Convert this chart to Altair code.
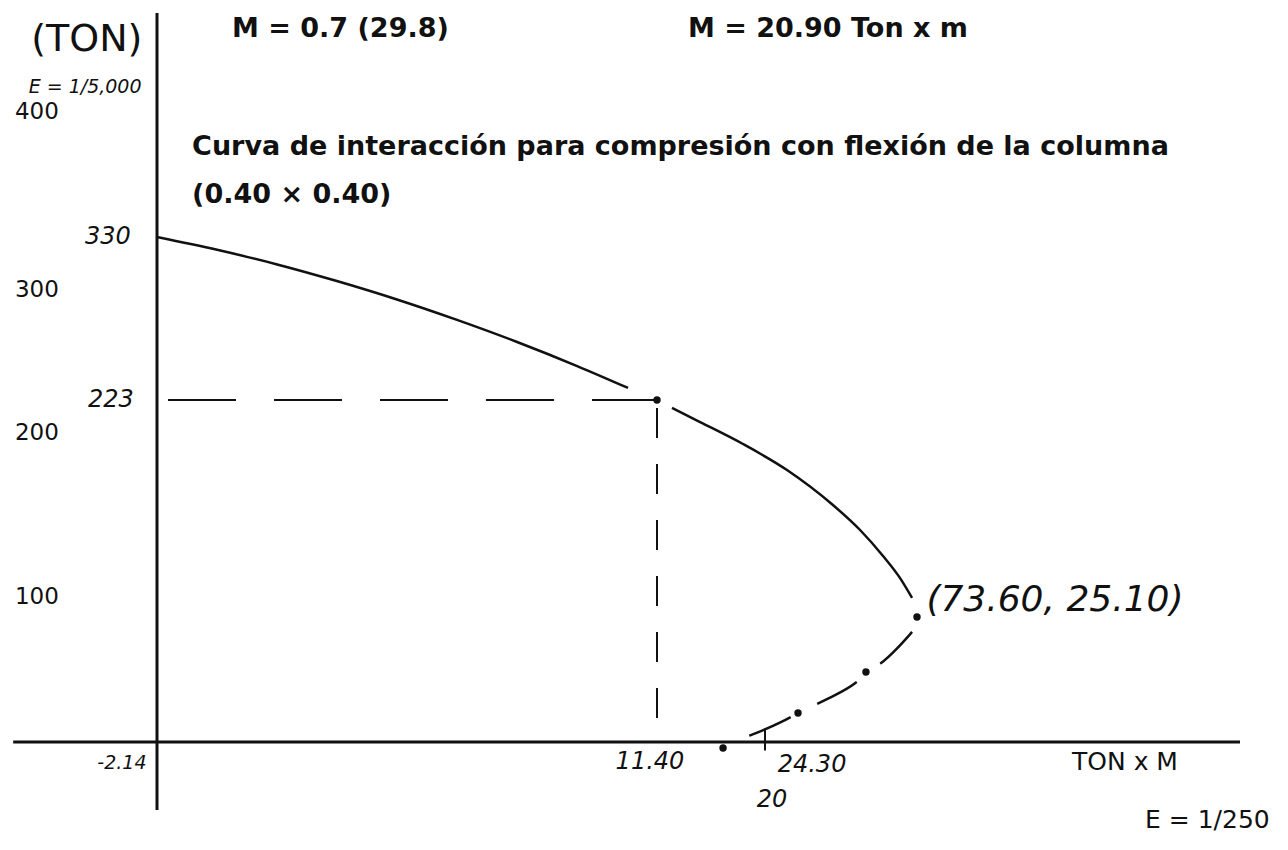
import altair as alt
import pandas as pd

# ---- Axis knots: the hand-drawn diagram is not to one scale, so the
# labelled values (11.40, 25.10 on M; 73.60, 223, 330 on P) are pinned.
X_KNOTS = [-3.58, 0.0, 11.40, 25.10, 44.65]
X_PIX = [0, 157, 657, 917, 1288]
Y_KNOTS = [-63.6, 0.0, 73.60, 223.0, 330.0, 485.6]
Y_PIX = [850, 742, 617, 400, 237, 0]

# ---- Interaction curve (M in Ton x m, P in Ton)
# compression-controlled branch, drawn in two strokes around the 11.40 point
UPPER_A_M = [0.0, 1.37, 2.74, 4.10, 5.47, 6.84, 8.21, 9.58, 10.74]
UPPER_A_P = [330.0, 321.6, 312.0, 301.1, 289.0, 275.6, 261.1, 245.3, 230.9]
UPPER_B_M = [12.19, 13.67, 15.93, 18.25, 20.67, 22.10, 23.31, 24.20, 24.84]
UPPER_B_P = [217.5, 207.8, 192.7, 174.8, 150.7, 133.5, 115.6, 100.5, 86.7]
# tension-controlled branch (dash-dot)
LOWER_M = [24.84, 24.04, 23.15, 22.41, 21.94, 20.83, 19.72, 18.83, 17.99, 16.93, 15.93, 15.51]
LOWER_P = [64.8, 54.7, 45.3, 41.2, 34.7, 27.7, 21.8, 17.1, 11.8, 6.5, 2.4, 0.0]
# computed points
DOT_M = [11.40, 25.10, 22.41, 18.83, 14.88]
DOT_P = [223.0, 73.60, 41.2, 17.1, -3.5]

# design load (M = 11.40, P = 223)
LOAD_M = 11.40
LOAD_P = 223.0

# axis extents
XAXIS_M = [-3.28, 42.12]
YAXIS_P = [-40.0, 477.0]
TICK_M = 17.09
TICK_P = [7.0, -5.0]

# ---- Text
HEAD_TEXT = ["M = 0.7 (29.8)", "M = 20.90 Ton x m",
             "Curva de interacción para compresión con flexión de la columna",
             "(0.40 × 0.40)"]
HEAD_M = [1.71, 13.03, 0.80, 0.80]
HEAD_P = [461.3, 461.3, 383.8, 352.3]

UNIT_TEXT = ["(TON)"]
UNIT_M = [-1.60]
UNIT_P = [459.3]

BAL_TEXT = ["(73.60, 25.10)"]
BAL_M = [32.37]
BAL_P = [85.3]

# hand-written P labels on the left of the vertical axis
PLAB_TEXT = ["400", "300", "200", "100"]
PLAB_M = [-2.74, -2.74, -2.74, -2.74]
PLAB_P = [412.0, 295.2, 200.3, 87.4]

NUM_TEXT = ["330", "223", "11.40", "24.30", "20"]
NUM_M = [-1.12, -1.05, 11.24, 19.57, 17.46]
NUM_P = [330, 223, -11.8, -13.5, -34.1]

SMALL_TEXT = ["-2.14", "E = 1/5,000"]
SMALL_M = [-0.80, -1.64]
SMALL_P = [-12.4, 428.5]

AXIS_TEXT = ["TON x M", "E = 1/250"]
AXIS_M = [36.06, 40.40]
AXIS_P = [-11.8, -45.9]

XS = alt.Scale(domain=X_KNOTS, range=X_PIX, zero=False, nice=False)
YS = alt.Scale(domain=Y_KNOTS, range=Y_PIX, zero=False, nice=False)
INK = "#111111"
HAND = "DejaVu Sans"


def xy():
    return dict(x=alt.X("m:Q", scale=XS, axis=None),
                y=alt.Y("p:Q", scale=YS, axis=None))


def path(ms, ps):
    return pd.DataFrame({"m": ms, "p": ps, "i": range(len(ms))})


# axes drawn as plain strokes
x_axis = alt.Chart(pd.DataFrame({"m": [XAXIS_M[0]], "m2": [XAXIS_M[1]], "p": [0.0]})).mark_rule(
    color=INK, strokeWidth=3).encode(**xy(), x2="m2:Q")
y_axis = alt.Chart(pd.DataFrame({"m": [0.0], "p": [YAXIS_P[0]], "p2": [YAXIS_P[1]]})).mark_rule(
    color=INK, strokeWidth=3).encode(**xy(), y2="p2:Q")
tick = alt.Chart(pd.DataFrame({"m": [TICK_M], "p": [TICK_P[0]], "p2": [TICK_P[1]]})).mark_rule(
    color=INK, strokeWidth=2).encode(**xy(), y2="p2:Q")

upper_a = alt.Chart(path(UPPER_A_M, UPPER_A_P)).mark_line(
    color=INK, strokeWidth=2.5, interpolate="monotone").encode(**xy(), order="i:Q")
upper_b = alt.Chart(path(UPPER_B_M, UPPER_B_P)).mark_line(
    color=INK, strokeWidth=2.5, interpolate="monotone").encode(**xy(), order="i:Q")
lower = alt.Chart(path(LOWER_M, LOWER_P)).mark_line(
    color=INK, strokeWidth=2.5, strokeDash=[45, 30], interpolate="basis").encode(**xy(), order="i:Q")

load_h = alt.Chart(path([0.0, LOAD_M], [LOAD_P, LOAD_P])).mark_line(
    color=INK, strokeWidth=2, strokeDash=[68, 38], strokeDashOffset=95).encode(**xy(), order="i:Q")
load_v = alt.Chart(path([LOAD_M, LOAD_M], [0.0, LOAD_P])).mark_line(
    color=INK, strokeWidth=2, strokeDash=[30, 26], strokeDashOffset=32).encode(**xy(), order="i:Q")

dots = alt.Chart(path(DOT_M, DOT_P)).mark_circle(
    color=INK, size=55, opacity=1).encode(**xy())


def text_layer(texts, ms, ps, **props):
    df = pd.DataFrame({"t": texts, "m": ms, "p": ps})
    return alt.Chart(df).mark_text(color=INK, **props).encode(**xy(), text="t:N")


head = text_layer(HEAD_TEXT, HEAD_M, HEAD_P, font="DejaVu Sans", fontSize=27,
                  fontWeight="bold", align="left", baseline="alphabetic")
unit = text_layer(UNIT_TEXT, UNIT_M, UNIT_P, font=HAND, fontSize=38,
                  align="center", baseline="middle")
bal = text_layer(BAL_TEXT, BAL_M, BAL_P, font=HAND, fontSize=36,
                 fontStyle="italic", align="center", baseline="middle")
plabs = text_layer(PLAB_TEXT, PLAB_M, PLAB_P, font=HAND, fontSize=23,
                   align="center", baseline="middle")
nums = text_layer(NUM_TEXT, NUM_M, NUM_P, font=HAND, fontSize=24,
                  fontStyle="italic", align="center", baseline="middle")
small = text_layer(SMALL_TEXT, SMALL_M, SMALL_P, font=HAND, fontSize=19,
                   fontStyle="italic", align="center", baseline="middle")
axis_txt = text_layer(AXIS_TEXT, AXIS_M, AXIS_P, font=HAND, fontSize=25,
                      align="center", baseline="middle")

chart = alt.layer(
    load_h, load_v, x_axis, y_axis, tick, upper_a, upper_b, lower, dots,
    head, unit, bal, plabs, nums, small, axis_txt,
).properties(
    width=1288, height=850, padding=0,
    autosize=alt.AutoSizeParams(type="none"),
    background="white",
).configure_view(stroke=None)

chart.save("out.html", embed_options={"renderer": "svg", "actions": False})
